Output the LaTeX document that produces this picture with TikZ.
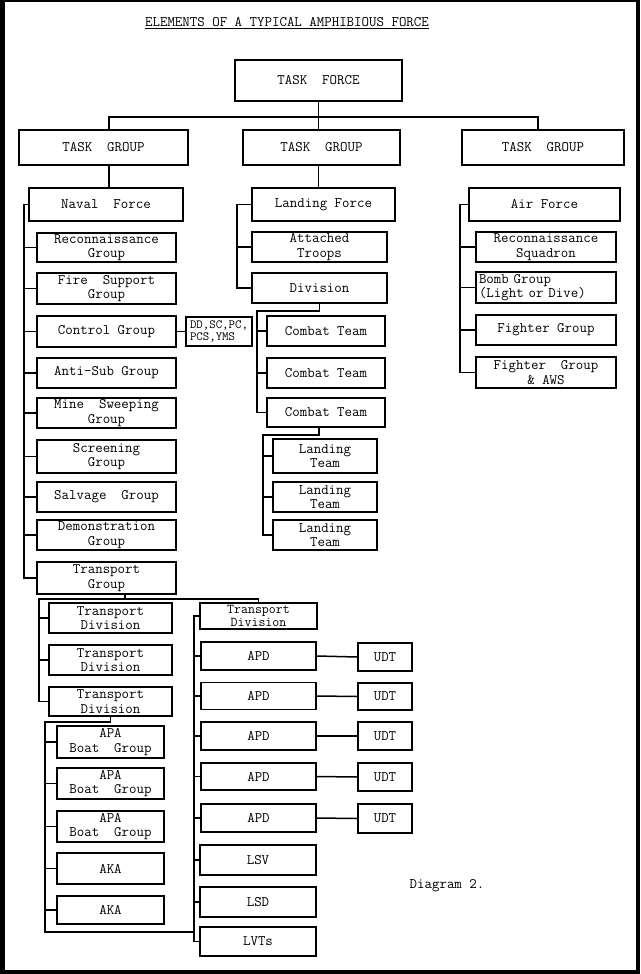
\documentclass[tikz,border=0pt]{standalone}
\usepackage{tikz}
\newcommand{\txf}{\fontsize{14.5}{14.5}\selectfont\ttfamily}
\newcommand{\txs}{\fontsize{12.5}{12.5}\selectfont\ttfamily}
\newcommand{\txt}{\fontsize{13.5}{12.8}\selectfont\ttfamily}
\begin{document}
\begin{tikzpicture}[x=1pt,y=-1pt,
  box/.style={draw, line width=1.5pt, inner sep=0pt, align=center, font=\txf},
  conn/.style={line width=1.5pt},
  lbl/.style={inner sep=0pt, font=\txf}]
\useasboundingbox (0,0) rectangle (640,974);
\fill[black] (0,0) rectangle (640,974);
\fill[white] (5,2) rectangle (636,970);

\node[lbl] (title) at (287,23) {\underline{ELEMENTS OF A TYPICAL AMPHIBIOUS FORCE}};

% top levels
\node[box, minimum width=167, minimum height=41] (tf) at (318.5,80.5) {TASK~~FORCE};
\node[box, minimum width=169, minimum height=35] (tg1) at (103.5,147.5) {TASK~~GROUP};
\node[box, minimum width=157, minimum height=35] (tg2) at (321.5,147.5) {TASK~~GROUP};
\node[box, minimum width=162, minimum height=35] (tg3) at (543,147.5) {TASK~~GROUP};

\node[box, minimum width=154, minimum height=33] (naval) at (106,204.5) {Naval~~Force};
\node[box, minimum width=143, minimum height=33] (landing) at (323.5,204.5) {Landing Force};
\node[box, minimum width=151, minimum height=33] (air) at (544.5,204.5) {Air Force};

% naval children
\node[box, minimum width=139, minimum height=29] (recon) at (106.5,247.5) {Reconnaissance\\Group};
\node[box, minimum width=139, minimum height=31] (fire) at (106.5,288.5) {Fire~~Support\\Group};
\node[box, minimum width=139, minimum height=31] (control) at (106.5,331.5) {Control Group};
\node[box, minimum width=139, minimum height=30] (antisub) at (106.5,373) {Anti-Sub Group};
\node[box, minimum width=139, minimum height=30] (mine) at (106.5,413) {Mine~~Sweeping\\Group};
\node[box, minimum width=139, minimum height=33] (screen) at (106.5,456.5) {Screening\\Group};
\node[box, minimum width=139, minimum height=30] (salvage) at (106.5,497) {Salvage~~Group};
\node[box, minimum width=139, minimum height=30] (demo) at (106.5,535) {Demonstration\\Group};
\node[box, minimum width=139, minimum height=32] (transport) at (106.5,578) {Transport\\Group};
\node[box, minimum width=66, minimum height=29, font=\txs, align=left] (dd) at (219,331.5) {DD,SC,PC,\\PCS,YMS};

% landing children
\node[box, minimum width=135, minimum height=30] (attached) at (319.5,247) {Attached\\Troops};
\node[box, minimum width=135, minimum height=30] (division) at (319.5,288) {Division};
\node[box, minimum width=118, minimum height=30] (ct1) at (326,331) {Combat Team};
\node[box, minimum width=118, minimum height=30] (ct2) at (326,373) {Combat Team};
\node[box, minimum width=118, minimum height=29] (ct3) at (326,412.5) {Combat Team};
\node[box, minimum width=104, minimum height=34] (lt1) at (325,456) {Landing\\Team};
\node[box, minimum width=104, minimum height=30] (lt2) at (325,497) {Landing\\Team};
\node[box, minimum width=104, minimum height=30] (lt3) at (325,535) {Landing\\Team};

% air children
\node[box, minimum width=140, minimum height=30] (rsq) at (546,247) {Reconnaissance\\Squadron};
\node[box, minimum width=140, minimum height=31, text width=134, align=left] (bomb) at (546,287.5) {Bomb Group\\(Light or Dive)};
\node[box, minimum width=140, minimum height=30] (fighter) at (546,330) {Fighter Group};
\node[box, minimum width=140, minimum height=31] (faws) at (546,372.5) {Fighter~~Group\\\& AWS};

% transport divisions
\node[box, minimum width=123, minimum height=30] (td1) at (110.5,618) {Transport\\Division};
\node[box, minimum width=123, minimum height=30] (td2) at (110.5,660) {Transport\\Division};
\node[box, minimum width=123, minimum height=29] (td3) at (110.5,701.5) {Transport\\Division};
\node[box, minimum width=117, minimum height=26, font=\txt] (td4) at (258.5,616) {Transport\\Division};

% APA / AKA
\node[box, minimum width=107, minimum height=32] (apa1) at (110.5,742) {APA\\Boat~~Group};
\node[box, minimum width=107, minimum height=31] (apa2) at (110.5,783.5) {APA\\Boat~~Group};
\node[box, minimum width=107, minimum height=31] (apa3) at (110.5,826.5) {APA\\Boat~~Group};
\node[box, minimum width=107, minimum height=31] (aka1) at (110.5,868.5) {AKA};
\node[box, minimum width=107, minimum height=28] (aka2) at (110.5,910) {AKA};

% APD / UDT / LS
\node[box, minimum width=115, minimum height=28] (apd1) at (258.5,656) {APD};
\node[box, minimum width=115, minimum height=27] (apd2) at (258.5,696) {APD};
\node[box, minimum width=115, minimum height=28] (apd3) at (258.5,736) {APD};
\node[box, minimum width=115, minimum height=27] (apd4) at (258.5,776.5) {APD};
\node[box, minimum width=115, minimum height=28] (apd5) at (258.5,818) {APD};
\node[box, minimum width=54, minimum height=28] (udt1) at (385,657) {UDT};
\node[box, minimum width=54, minimum height=27] (udt2) at (385,696.5) {UDT};
\node[box, minimum width=54, minimum height=28] (udt3) at (385,736) {UDT};
\node[box, minimum width=54, minimum height=28] (udt4) at (385,777) {UDT};
\node[box, minimum width=54, minimum height=29] (udt5) at (385,818.5) {UDT};
\node[box, minimum width=116, minimum height=30] (lsv) at (258,860) {LSV};
\node[box, minimum width=116, minimum height=30] (lsd) at (258,902) {LSD};
\node[box, minimum width=116, minimum height=29] (lvts) at (258,941.5) {LVTs};

\node[lbl] (diag) at (447,886) {Diagram 2.};

% ---- connectors ----
\coordinate (busL) at (109,117);
\coordinate (busR) at (538,117);
\draw[conn] (tf.south) -- (tf.south |- tg2.north);
\draw[conn] (busL |- tg1.north) -- (busL) -- (busR) -- (busR |- tg3.north);
\draw[conn] (busL |- tg1.south) -- (busL |- naval.north);
\draw[conn] (tf.south |- tg2.south) -- (tf.south |- landing.north);

% naval spine
\coordinate (ns) at (24,0);
\draw[conn] (naval.west) -| (ns |- transport.west) -- (transport.west);
\foreach \n in {recon,fire,control,antisub,mine,screen,salvage,demo}
  \draw[conn] (ns |- \n.west) -- (\n.west);
\draw[conn] (control.east) -- (dd.west);

% landing spine
\coordinate (ls) at (237,0);
\draw[conn] (landing.west) -| (ls |- division.west) -- (division.west);
\draw[conn] (ls |- attached.west) -- (attached.west);
\coordinate (cs) at (257,311);
\draw[conn] (division.south) -- (division.south |- cs) -- (cs) -- (cs |- ct3.west) -- (ct3.west);
\foreach \n in {ct1,ct2}
  \draw[conn] (cs |- \n.west) -- (\n.west);
\coordinate (lts) at (263,435);
\draw[conn] ([xshift=-7]ct3.south) -- ([xshift=-7]ct3.south |- lts) -- (lts) -- (lts |- lt3.west) -- (lt3.west);
\foreach \n in {lt1,lt2}
  \draw[conn] (lts |- \n.west) -- (\n.west);

% air spine
\coordinate (as) at (460,0);
\draw[conn] (air.west) -| (as |- faws.west) -- (faws.west);
\foreach \n in {rsq,bomb,fighter}
  \draw[conn] (as |- \n.west) -- (\n.west);

% transport group
\coordinate (tbus) at (39,599);
\draw[conn] ([xshift=18.5]transport.south) -- ([xshift=18.5]transport.south |- tbus);
\draw[conn] (td3.west) -| (tbus) -| (td4.north);
\foreach \n in {td1,td2}
  \draw[conn] (tbus |- \n.west) -- (\n.west);

% td4 spine
\coordinate (rs) at (194,0);
\draw[conn] (td4.west) -| (rs |- lvts.west) -- (lvts.west);
\foreach \n in {apd1,apd2,apd3,apd4,apd5,lsv,lsd}
  \draw[conn] (rs |- \n.west) -- (\n.west);
\foreach \i in {1,...,5}
  \draw[conn] (apd\i.east) -- (udt\i.west);

% td3 spine
\coordinate (abus) at (45,722);
\coordinate (abot) at (45,932);
\draw[conn] (td3.south) -- (td3.south |- abus) -- (abus) -- (abot) -- (abot -| rs);
\foreach \n in {apa1,apa2,apa3,aka1,aka2}
  \draw[conn] (abus |- \n.west) -- (\n.west);
\end{tikzpicture}
\end{document}
